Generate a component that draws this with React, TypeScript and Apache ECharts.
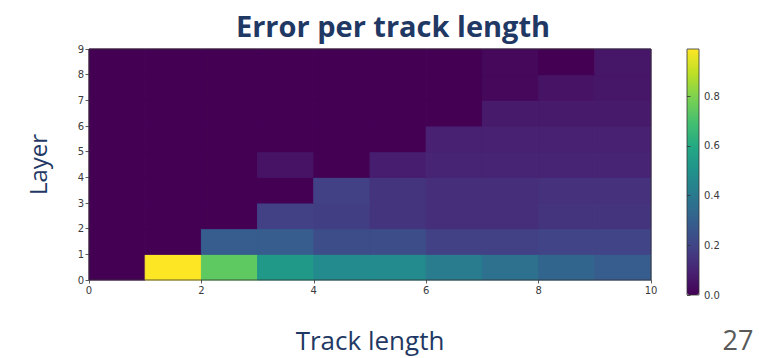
import React, { useEffect, useRef } from "react";
import * as echarts from "echarts";

// Error value per cell: one array per layer (row), index = track-length bin (0..9)
const layer0 = [0.0, 0.99, 0.74, 0.53, 0.47, 0.47, 0.41, 0.37, 0.32, 0.29];
const layer1 = [0.0, 0.0, 0.29, 0.29, 0.23, 0.23, 0.19, 0.19, 0.2, 0.2];
const layer2 = [0.0, 0.0, 0.0, 0.19, 0.18, 0.15, 0.13, 0.13, 0.15, 0.15];
const layer3 = [0.0, 0.0, 0.0, 0.0, 0.19, 0.15, 0.13, 0.13, 0.14, 0.14];
const layer4 = [0.0, 0.0, 0.0, 0.05, 0.0, 0.08, 0.1, 0.1, 0.1, 0.1];
const layer5 = [0.0, 0.0, 0.0, 0.0, 0.0, 0.0, 0.09, 0.09, 0.09, 0.09];
const layer6 = [0.0, 0.0, 0.0, 0.0, 0.0, 0.0, 0.0, 0.07, 0.07, 0.07];
const layer7 = [0.0, 0.0, 0.0, 0.0, 0.0, 0.0, 0.0, 0.02, 0.05, 0.06];
const layer8 = [0.0, 0.0, 0.0, 0.0, 0.0, 0.0, 0.0, 0.02, 0.0, 0.06];
const layers = [layer0, layer1, layer2, layer3, layer4, layer5, layer6, layer7, layer8];

const colorbarMin = 0;
const colorbarMax = 0.99;
const colorbarTicks = [0, 0.2, 0.4, 0.6, 0.8];

const viridis = [
  "#440154", "#482475", "#414487", "#355f8d", "#2a788e", "#21918c",
  "#22a884", "#44bf70", "#7ad151", "#bddf26", "#fde725",
];

const title = "Error per track length";
const xName = "Track length";
const yName = "Layer";
const slideNumber = "27";

export default function App() {
  const ref = useRef<HTMLDivElement>(null);

  useEffect(() => {
    if (!ref.current) return;
    const chart = echarts.init(ref.current, null, { renderer: "svg" });

    const data: number[][] = [];
    layers.forEach((row, y) => row.forEach((v, x) => data.push([x, y, v])));

    const tickLabel = { fontSize: 10, color: "#3a3a3a", fontFamily: "DejaVu Sans", margin: 5 };
    const tick = { show: true, inside: false, length: 3.5, lineStyle: { color: "#333", width: 0.8 } };
    const navy = "#1f3864";

    chart.setOption({
      animation: false,
      backgroundColor: "#ffffff",
      grid: [
        { left: 89, top: 49, width: 562, height: 246, show: true, z: 10, backgroundColor: "transparent", borderColor: "#333", borderWidth: 0.8 },
        { left: 687, top: 49, width: 12, height: 246, show: true, z: 10, backgroundColor: "transparent", borderColor: "#333", borderWidth: 0.8 },
      ],
      xAxis: [
        {
          type: "value", gridIndex: 0, min: 0, max: 10, interval: 2, z: 10,
          axisLine: { show: false }, axisTick: tick, splitLine: { show: false },
          axisLabel: tickLabel,
          name: xName, nameLocation: "middle", nameGap: 47,
          nameTextStyle: { fontSize: 26, color: navy, fontFamily: "Open Sans" },
        },
        { type: "value", gridIndex: 1, show: false, min: 0, max: 1 },
      ],
      yAxis: [
        {
          type: "value", gridIndex: 0, min: 0, max: 9, interval: 1, z: 10,
          axisLine: { show: false }, axisTick: tick, splitLine: { show: false },
          axisLabel: tickLabel,
          name: yName, nameLocation: "middle", nameGap: 40,
          nameTextStyle: { fontSize: 24, color: navy, fontFamily: "Open Sans" },
        },
        {
          type: "value", gridIndex: 1, position: "right", min: colorbarMin, max: colorbarMax, z: 10,
          interval: 0.2,
          axisLine: { show: false }, axisTick: tick, splitLine: { show: false },
          axisLabel: {
            ...tickLabel,
            showMaxLabel: false,
            formatter: (v: number) => (colorbarTicks.some((t) => Math.abs(t - v) < 1e-6) ? v.toFixed(1) : ""),
          },
        },
      ],
      visualMap: {
        type: "continuous",
        seriesIndex: 0,
        dimension: 2,
        min: colorbarMin,
        max: colorbarMax,
        inRange: { color: viridis },
        orient: "vertical",
        left: 687,
        top: 49,
        itemWidth: 12,
        itemHeight: 246,
        padding: 0,
        calculable: false,
        hoverLink: false,
        text: null,
      },
      series: [
        {
          type: "custom",
          xAxisIndex: 0,
          yAxisIndex: 0,
          z: 2,
          data,
          encode: { x: 0, y: 1 },
          renderItem: (params: any, api: any) => {
            const x = api.value(0);
            const y = api.value(1);
            const p0 = api.coord([x, y + 1]);
            const p1 = api.coord([x + 1, y]);
            const c = api.visual("color");
            return {
              type: "rect",
              shape: { x: p0[0], y: p0[1], width: p1[0] - p0[0], height: p1[1] - p0[1] },
              style: { fill: c, stroke: c, lineWidth: 1 },
            };
          },
        },
      ],
      graphic: [
        {
          type: "text", x: 393, y: 25, z: 20,
          style: { text: title, fontSize: 29, fontWeight: "bold", fill: navy, fontFamily: "Open Sans", align: "center", verticalAlign: "middle" },
        },
        {
          type: "text", x: 738, y: 339, z: 20,
          style: { text: slideNumber, fontSize: 27, fill: "#595959", fontFamily: "Open Sans", align: "center", verticalAlign: "middle" },
        },
      ],
    });

    return () => chart.dispose();
  }, []);

  return <div ref={ref} style={{ position: "fixed", left: 0, top: 0, width: 759, height: 358 }} />;
}
